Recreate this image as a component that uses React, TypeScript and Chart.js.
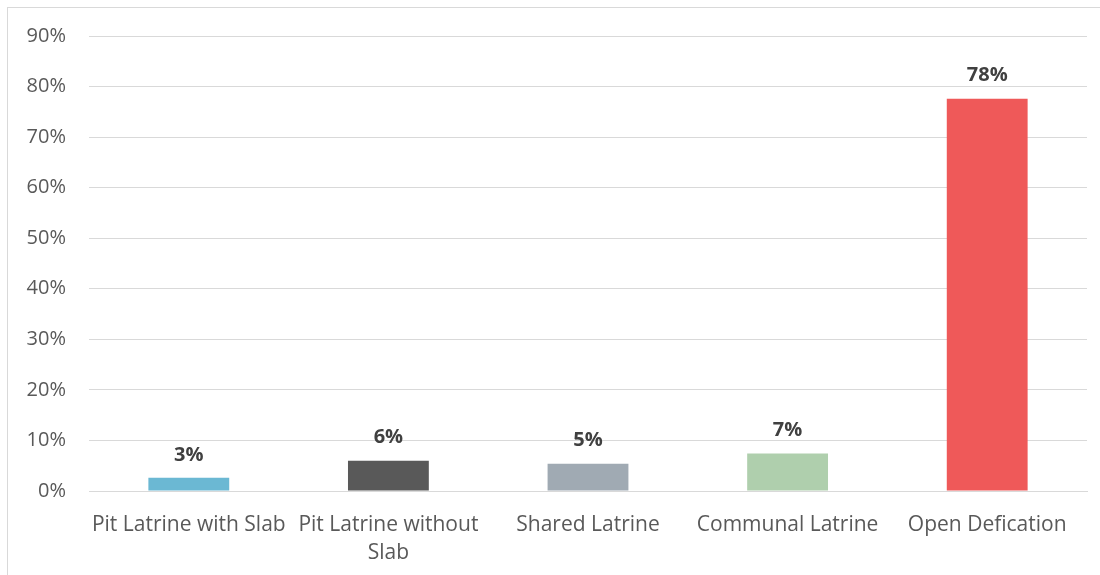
import React, { useEffect, useRef } from "react";
import { Chart, registerables } from "chart.js";

Chart.register(...registerables);

const categories: (string | string[])[] = [
  "Pit Latrine with Slab",
  ["Pit Latrine without", "Slab"],
  "Shared Latrine",
  "Communal Latrine",
  "Open Defication",
];
const shares = [2.6, 6.0, 5.4, 7.4, 77.6];
const barColors = ["#6bb8d3", "#595959", "#a0aab3", "#afcfad", "#ef5959"];
const yTicks = [0, 10, 20, 30, 40, 50, 60, 70, 80, 90];

const FONT = "'Open Sans', 'Liberation Sans', sans-serif";

// Writes each bar's rounded percentage just above it
const valueLabels = {
  id: "valueLabels",
  afterDatasetsDraw(chart: any) {
    const { ctx } = chart;
    const meta = chart.getDatasetMeta(0);
    ctx.save();
    ctx.font = `bold 20px ${FONT}`;
    ctx.fillStyle = "#404040";
    ctx.textAlign = "center";
    ctx.textBaseline = "middle";
    meta.data.forEach((bar: any, i: number) => {
      const v = chart.data.datasets[0].data[i] as number;
      ctx.fillText(`${Math.round(v)}%`, bar.x, bar.y - 23);
    });
    ctx.restore();
  },
};

export default function App() {
  const ref = useRef<HTMLCanvasElement>(null);

  useEffect(() => {
    if (!ref.current) return;
    const chart = new Chart(ref.current, {
      type: "bar",
      data: {
        labels: categories,
        datasets: [
          {
            data: shares,
            backgroundColor: barColors,
            barPercentage: 0.81,
            categoryPercentage: 0.5,
          },
        ],
      },
      options: {
        animation: false,
        responsive: false,
        maintainAspectRatio: false,
        layout: { padding: { top: 28, right: 13, left: 0, bottom: 0 } },
        plugins: {
          legend: { display: false },
          tooltip: { enabled: false },
        },
        scales: {
          x: {
            grid: { display: false, drawTicks: false },
            border: { display: true, color: "#d9d9d9", width: 1 },
            ticks: {
              color: "#595959",
              font: { family: FONT, size: 21, lineHeight: 1.33 },
              padding: 20,
              maxRotation: 0,
              autoSkip: false,
            },
            afterFit: (s: any) => {
              s.height = 84;
              s.paddingLeft = 0;
              s.paddingRight = 0;
            },
          },
          y: {
            min: 0,
            max: 90,
            afterBuildTicks: (s: any) => {
              s.ticks = yTicks.map((v) => ({ value: v }));
            },
            grid: { color: "#d9d9d9", lineWidth: 1, drawTicks: false },
            border: { display: false },
            ticks: {
              color: "#595959",
              font: { family: FONT, size: 20 },
              padding: 23,
              callback: (v: any) => `${v}%`,
            },
            afterFit: (s: any) => {
              s.width = 81;
              s.paddingTop = 0;
              s.paddingBottom = 0;
            },
          },
        },
      },
      plugins: [valueLabels],
    });
    return () => chart.destroy();
  }, []);

  return (
    <div
      style={{
        position: "absolute",
        left: 7,
        top: 7,
        width: 1120,
        height: 600,
        border: "1px solid #d9d9d9",
        boxSizing: "border-box",
        background: "#fff",
      }}
    >
      <canvas
        ref={ref}
        width={1092}
        height={567}
        style={{ position: "absolute", left: 0, top: 0, width: 1092, height: 567 }}
      />
    </div>
  );
}
